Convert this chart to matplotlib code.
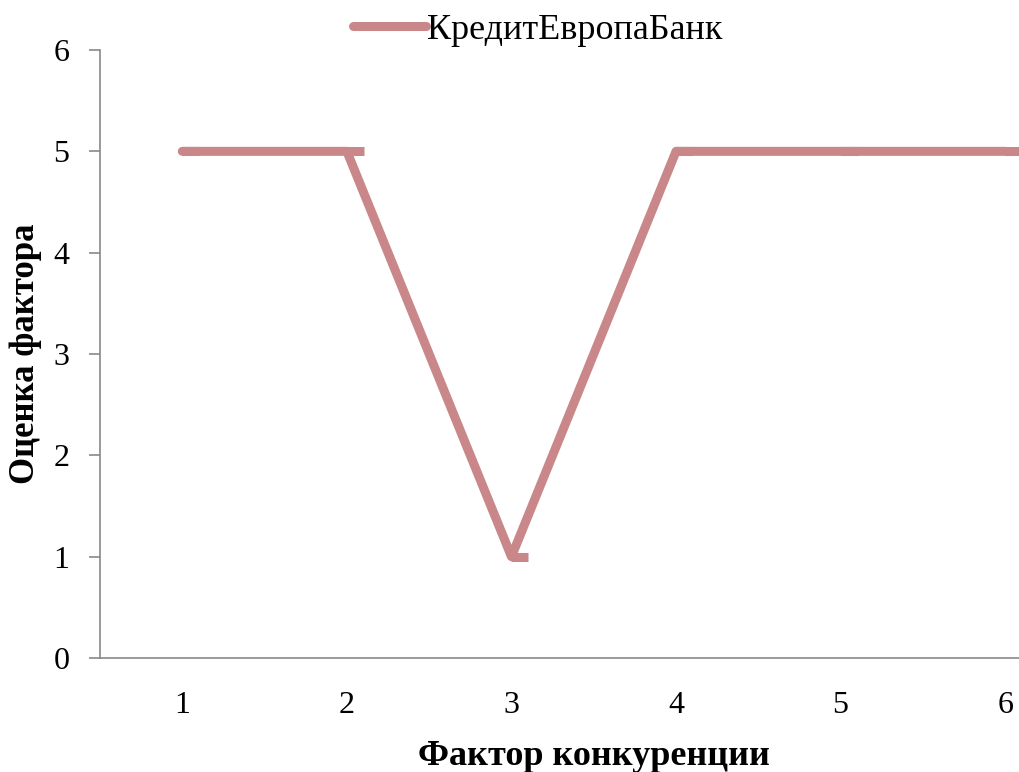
import matplotlib
matplotlib.use("Agg")
import matplotlib.pyplot as plt
from matplotlib.path import Path

# data
factors = [1, 2, 3, 4, 5, 6]
scores = [5, 5, 1, 5, 5, 5]
series_name = "КредитЕвропаБанк"

plt.rcParams['font.family'] = ['Liberation Serif', 'DejaVu Serif']

fig = plt.figure(figsize=(10.19, 7.72), dpi=100)
# axes extends past right edge like the cropped original
ax = fig.add_axes([100 / 1019, 1 - 658 / 772, 987.5 / 1019, 608 / 772])

line_col = '#C9878A'
# dash marker drawn to the right of each point (Excel style)
dash = Path([(0, 0), (1, 0)], [Path.MOVETO, Path.LINETO])
ax.plot(factors, scores, color=line_col, lw=6.5, solid_capstyle='round',
        solid_joinstyle='round', marker=dash, markersize=24, markeredgewidth=6.5,
        label=series_name)

ax.set_xlim(0.5, 6.5)
ax.set_ylim(0, 6)
ax.set_xticks(factors)
ax.set_yticks(range(0, 7))

for s in ['top', 'right']:
    ax.spines[s].set_visible(False)
for s in ['left', 'bottom']:
    ax.spines[s].set_color('#898989')
    ax.spines[s].set_linewidth(1.2)

ax.tick_params(axis='y', length=8, width=1.2, color='#898989', labelsize=23, pad=14)
ax.tick_params(axis='x', length=0, labelsize=23, pad=24)

ax.set_xlabel('Фактор конкуренции', fontsize=26, fontweight='bold', labelpad=14)
ax.set_ylabel('Оценка фактора', fontsize=25, fontweight='bold')
ax.yaxis.set_label_coords(-0.059, 0.5)

leg = fig.legend(loc='center', bbox_to_anchor=(538 / 1019, 1 - 30 / 772), frameon=False,
                 fontsize=26, handlelength=2.0, handletextpad=0.05)
for h in leg.legend_handles:
    h.set_marker('')

fig.savefig('out.png', dpi=100)
